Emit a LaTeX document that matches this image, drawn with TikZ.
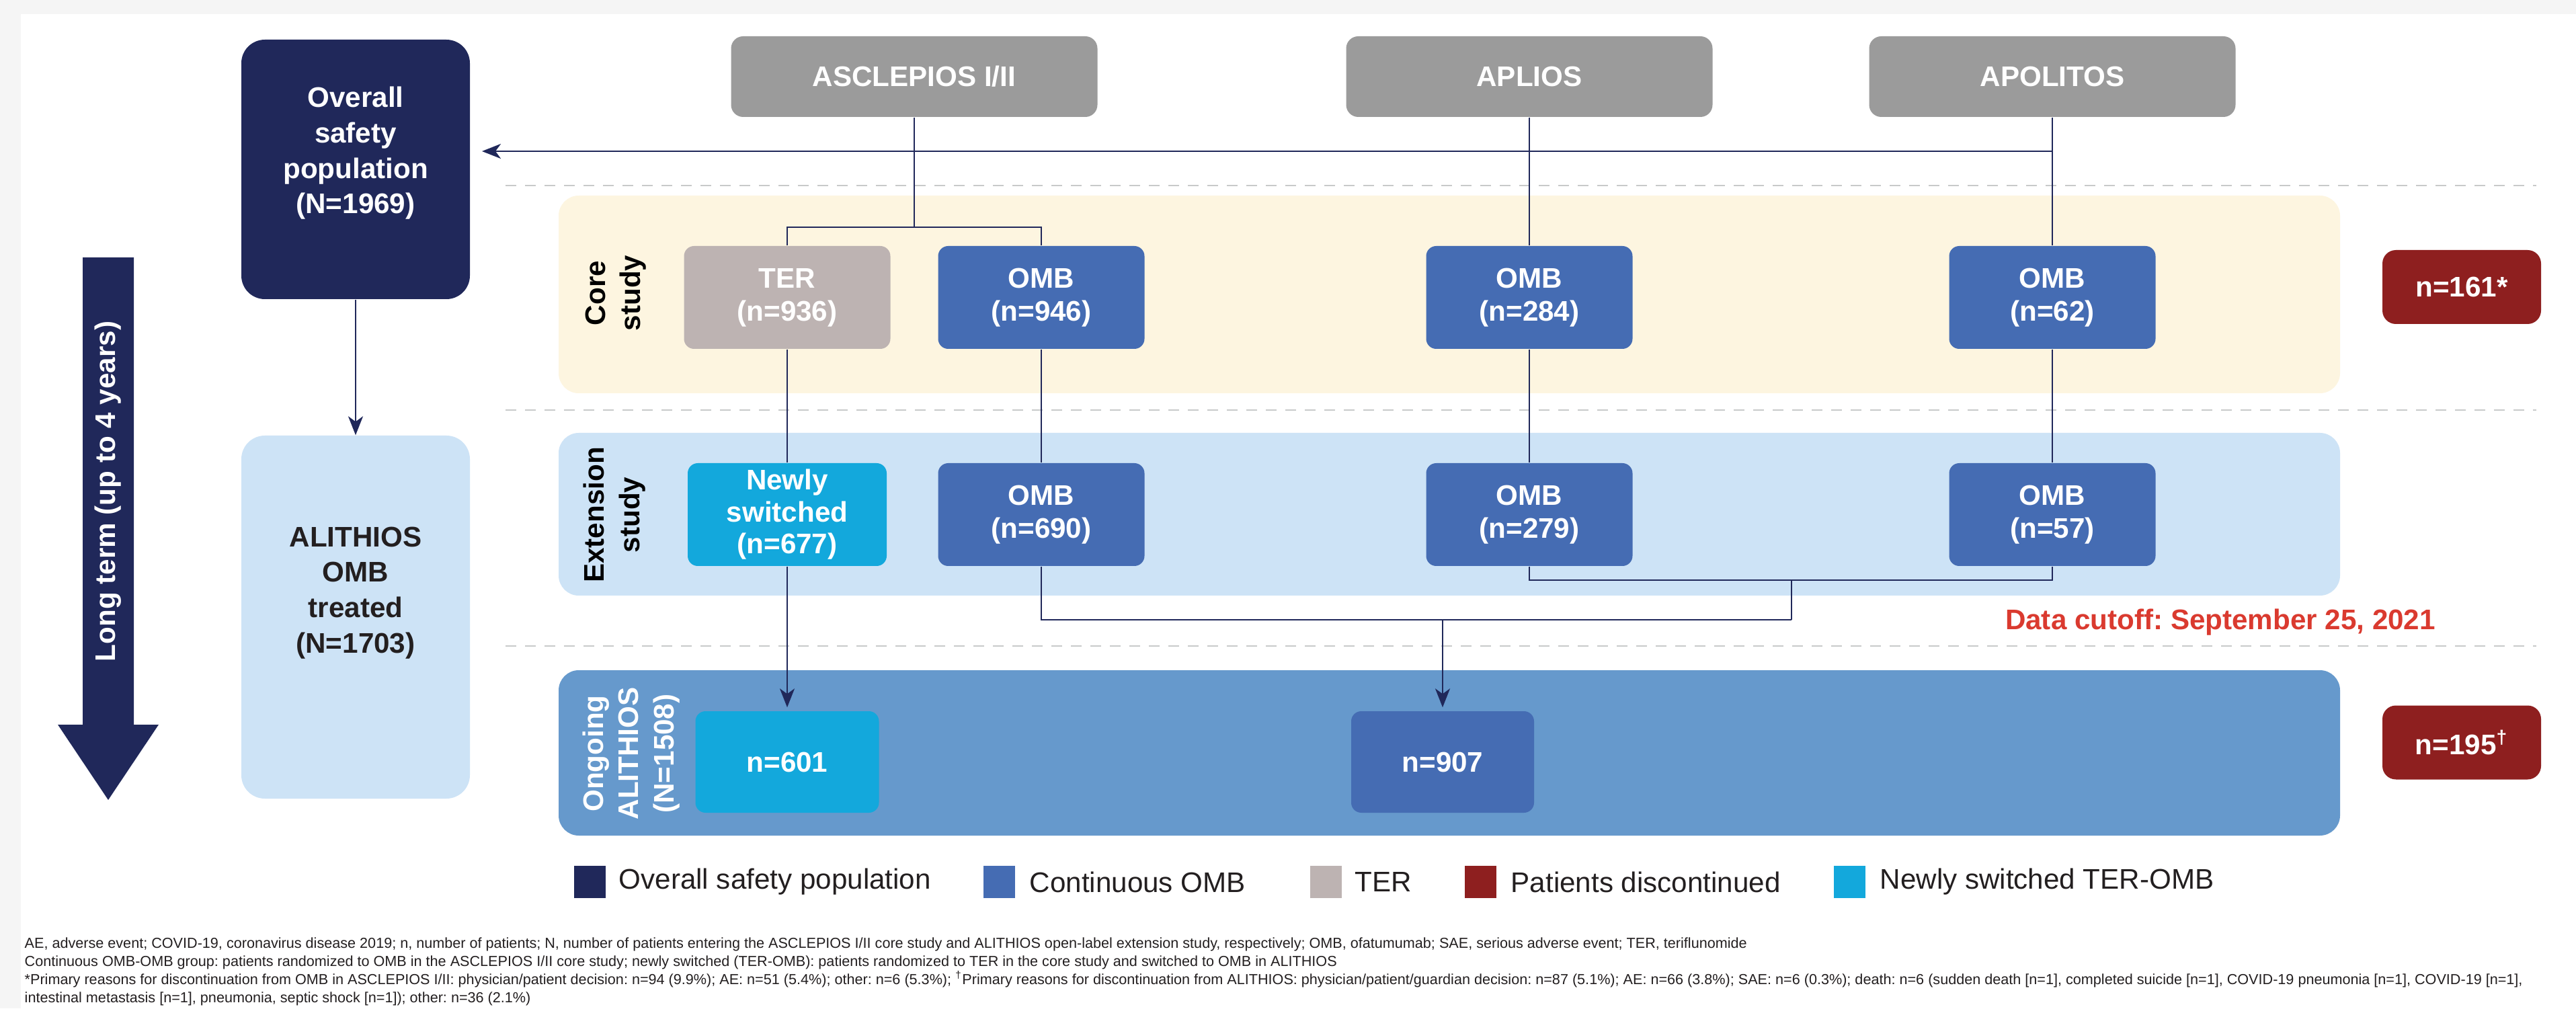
\documentclass[tikz,border=0pt]{standalone}
\usepackage{fontspec}
\setmainfont{Liberation Sans}
\usetikzlibrary{arrows.meta}
\frenchspacing

\definecolor{navy}{HTML}{20285A}
\definecolor{trialgrey}{HTML}{9B9B9B}
\definecolor{tergrey}{HTML}{BDB3B2}
\definecolor{ombblue}{HTML}{456CB3}
\definecolor{newcyan}{HTML}{13A8DC}
\definecolor{stopred}{HTML}{8E1F1F}
\definecolor{corefill}{HTML}{FDF5E0}
\definecolor{extfill}{HTML}{CDE3F6}
\definecolor{ongofill}{HTML}{6699CC}
\definecolor{cutred}{HTML}{DA3A2F}
\definecolor{dashgrey}{HTML}{C8CACA}
\definecolor{framegrey}{HTML}{F5F5F5}
\definecolor{inkblack}{HTML}{231F20}

\begin{document}
\begin{tikzpicture}[
    box/.style={rectangle, rounded corners=0.15cm, minimum width=3.07cm, minimum height=1.53cm, inner sep=0pt, align=center, text=white, font=\fontsize{12}{14}\selectfont\bfseries},
    ombbox/.style={box, fill=ombblue},
    terbox/.style={box, fill=tergrey},
    newbox/.style={box, fill=newcyan},
    popbox/.style={box, minimum width=3.40cm, rounded corners=0.35cm, font=\fontsize{12}{15}\selectfont\bfseries},
    trialbox/.style={box, fill=trialgrey, minimum width=5.45cm, minimum height=1.20cm, rounded corners=0.18cm},
    stopbox/.style={box, fill=stopred, minimum width=2.36cm, minimum height=1.10cm, rounded corners=0.2cm},
    band/.style={rectangle, rounded corners=0.3cm, minimum width=26.5cm, inner sep=0pt},
    sidelabel/.style={rotate=90, align=center, inner sep=0pt, font=\fontsize{12}{15}\selectfont\bfseries},
    conn/.style={draw=navy, line width=0.7pt},
    arr/.style={conn, -{Stealth[length=0.28cm, width=0.22cm, inset=0.08cm]}},
    cutline/.style={draw=dashgrey, line width=0.75pt, dash pattern=on 0.16cm off 0.13cm},
    key/.style={rectangle, minimum width=0.47cm, minimum height=0.48cm, inner sep=0pt},
    keytext/.style={anchor=west, inner sep=0pt, text=inkblack, font=\fontsize{12}{14}\selectfont},
    note/.style={anchor=base west, inner sep=0pt, text=inkblack, font=\fontsize{6.15}{7.7}\selectfont}
  ]

    \useasboundingbox (0,0) rectangle (38.32,15);
    \fill[framegrey] (0,0) rectangle (38.32,15);
    \fill[white] (0.31,0) rectangle (38.32,14.79);

    % Study phase bands
    \node[band, fill=corefill, minimum height=2.94cm] at (21.56,10.62) (coreband) {};
    \node[band, fill=extfill, minimum height=2.42cm] at (21.56,7.35) (extband) {};
    \node[band, fill=ongofill, minimum height=2.46cm] at (21.56,3.80) (ongoband) {};

    % Dashed separators
    \draw[cutline] (7.52,12.24) -- (37.73,12.24);
    \draw[cutline] (7.52,8.90) -- (37.73,8.90);
    \draw[cutline] (7.52,5.39) -- (37.73,5.39);

    \node[sidelabel] at (9.16,10.64) (corelabel) {Core\\study};
    \node[sidelabel] at (9.14,7.34) (extlabel) {Extension\\study};
    \node[sidelabel, text=white] at (9.39,3.79) (ongolabel) {Ongoing\\ALITHIOS\\(N=1508)};

    % Time arrow
    \fill[navy] (1.23,11.17) -- (1.99,11.17) -- (1.99,4.22) -- (2.36,4.22) -- (1.61,3.10) -- (0.86,4.22) -- (1.23,4.22) -- cycle;
    \node[sidelabel, text=white] at (1.61,7.69) (longterm) {Long term (up to 4 years)};

    % Populations
    \node[popbox, fill=navy, minimum height=3.86cm] at (5.29,12.48) (overall) {Overall\\safety\\population\\(N=1969)\rule[-0.57cm]{0pt}{0pt}};
    \node[popbox, fill=extfill, text=inkblack, minimum height=5.40cm] at (5.29,5.82) (alithios) {ALITHIOS\\OMB\\treated\\(N=1703)\rule[-0.81cm]{0pt}{0pt}};

    % Trials
    \node[trialbox] at (13.60,13.86) (asclepios) {ASCLEPIOS I/II};
    \node[trialbox] at (22.75,13.86) (aplios)    {APLIOS};
    \node[trialbox] at (30.53,13.86) (apolitos)  {APOLITOS};

    % Core study
    \node[terbox] at (11.71,10.575) (ter)    {TER\\(n=936)};
    \node[ombbox] at (15.49,10.575) (omb946) {OMB\\(n=946)};
    \node[ombbox] at (22.75,10.575) (omb284) {OMB\\(n=284)};
    \node[ombbox] at (30.53,10.575) (omb62)  {OMB\\(n=62)};

    % Extension study
    \node[newbox, minimum width=2.96cm, font=\fontsize{12}{13.5}\selectfont\bfseries] at (11.71,7.345) (newsw) {Newly\\switched\\(n=677)};
    \node[ombbox] at (15.49,7.345) (omb690) {OMB\\(n=690)};
    \node[ombbox] at (22.75,7.345) (omb279) {OMB\\(n=279)};
    \node[ombbox] at (30.53,7.345) (omb57)  {OMB\\(n=57)};

    % Ongoing
    \node[newbox, minimum width=2.73cm, minimum height=1.51cm] at (11.71,3.665) (n601) {n=601};
    \node[ombbox, minimum width=2.72cm, minimum height=1.51cm] at (21.46,3.665) (n907) {n=907};

    % Discontinued
    \node[stopbox] at (36.62,10.73) (stop161) {n=161*};
    \node[stopbox] at (36.62,3.955) (stop195) {n=195\textsuperscript{†}};

    \node[inner sep=0pt, text=cutred, font=\fontsize{12}{14}\selectfont\bfseries] at (33.03,5.74) (cutoff) {Data cutoff: September 25, 2021};

    % Connections
    \coordinate (feed) at (7.17,12.75);
    \coordinate (split) at (13.60,11.62);
    \coordinate (joinA) at (26.65,6.37);
    \coordinate (joinB) at (26.65,5.78);

    \draw[conn] (aplios.south) -- (omb284.north);
    \draw[conn] (apolitos.south) -- (omb62.north);
    \draw[arr] (apolitos.south |- feed) -- (feed);
    \draw[arr] (overall) -- (alithios);

    \draw[conn] (asclepios.south) -- (split);
    \draw[conn] (ter.north) |- (split) -| (omb946.north);

    \draw[conn] (ter.south) -- (newsw.north);
    \draw[conn] (omb946.south) -- (omb690.north);
    \draw[conn] (omb284.south) -- (omb279.north);
    \draw[conn] (omb62.south) -- (omb57.north);

    \draw[arr, shorten >=0.05cm] (newsw.south) -- (n601.north);
    \draw[conn] (omb279.south) |- (joinA) -| (omb57.south);
    \draw[conn] (joinA) -- (joinB);
    \draw[conn] (omb690.south) |- (joinB);
    \draw[arr, shorten >=0.05cm] (n907.north |- joinB) -- (n907.north);

    % Legend
    \node[key, fill=navy] at (8.775,1.88) (keypop) {};
    \node[keytext] at (9.20,1.88) (keypoptext) {Overall safety population};
    \node[key, fill=ombblue] at (14.865,1.88) (keyomb) {};
    \node[keytext] at (15.31,1.88) (keyombtext) {Continuous OMB};
    \node[key, fill=tergrey] at (19.72,1.88) (keyter) {};
    \node[keytext] at (20.15,1.88) (keytertext) {TER};
    \node[key, fill=stopred] at (22.02,1.88) (keystop) {};
    \node[keytext] at (22.47,1.88) (keystoptext) {Patients discontinued};
    \node[key, fill=newcyan] at (27.515,1.88) (keynew) {};
    \node[keytext] at (27.96,1.88) (keynewtext) {Newly switched TER-OMB};

    % Footnotes
    \node[note] at (0.36,0.90) (fn1) {AE, adverse event; COVID-19, coronavirus disease 2019; n, number of patients; N, number of patients entering the ASCLEPIOS I/II core study and ALITHIOS open-label extension study, respectively; OMB, ofatumumab; SAE, serious adverse event; TER, teriflunomide};
    \node[note] at (0.36,0.63) (fn2) {Continuous OMB-OMB group: patients randomized to OMB in the ASCLEPIOS I/II core study; newly switched (TER-OMB): patients randomized to TER in the core study and switched to OMB in ALITHIOS};
    \node[note] at (0.36,0.36) (fn3) {*Primary reasons for discontinuation from OMB in ASCLEPIOS I/II: physician/patient decision: n=94 (9.9\%); AE: n=51 (5.4\%); other: n=6 (5.3\%); \textsuperscript{†}Primary reasons for discontinuation from ALITHIOS: physician/patient/guardian decision: n=87 (5.1\%); AE: n=66 (3.8\%); SAE: n=6 (0.3\%); death: n=6 (sudden death [n=1], completed suicide [n=1], COVID-19 pneumonia [n=1], COVID-19 [n=1],};
    \node[note] at (0.36,0.09) (fn4) {intestinal metastasis [n=1], pneumonia, septic shock [n=1]); other: n=36 (2.1\%)};

  \end{tikzpicture}
\end{document}
